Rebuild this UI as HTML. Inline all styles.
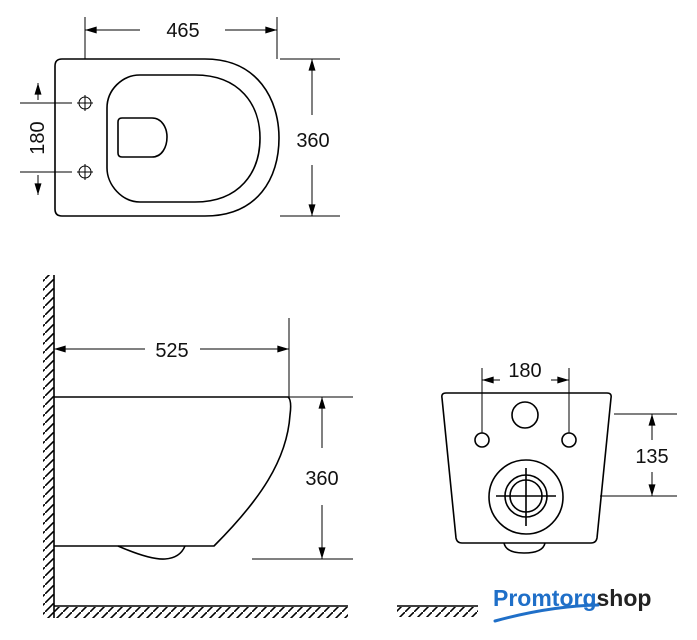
<!DOCTYPE html>
<html><head><meta charset="utf-8"><style>html,body{margin:0;padding:0;background:#fff}svg{display:block}</style></head><body>
<svg width="697" height="640" viewBox="0 0 697 640" xmlns="http://www.w3.org/2000/svg" font-family="'Liberation Sans', sans-serif">
<defs>
<marker id="a" viewBox="0 0 10 6" refX="10" refY="3" markerWidth="16" markerHeight="7" markerUnits="userSpaceOnUse" orient="auto-start-reverse"><path d="M0,0L10,3L0,6z" fill="#000"/></marker>
<pattern id="h" width="9" height="9" patternUnits="userSpaceOnUse"><path d="M0,9L9,0" stroke="#000" stroke-width="1.6"/></pattern>
</defs>
<g fill="none" stroke="#000" stroke-width="1.6">
<path d="M62,59H205C258,59 279,100 279,138C279,178 258,216 205,216H62Q55,216 55,209V66Q55,59 62,59Z"/>
<path d="M140,75H195C240,75 260,105 260,138C260,172 240,202 195,202H140C122,202 107,185 107,168V108C107,90 122,75 140,75Z"/>
<path d="M122,118H152C162,118 167,128 167,137C167,147 162,157 152,157H122Q118,157 118,153V122Q118,118 122,118Z"/>
</g>
<g fill="none" stroke="#000" stroke-width="1">
<circle cx="85" cy="103" r="6"/><path d="M77,103H93M85,95V111"/>
<circle cx="85" cy="172" r="6"/><path d="M77,172H93M85,164V180"/>
<path d="M85,17V59M277,17V59M20,103H72M20,172H72M280,59H340M280,216H340"/>
<path d="M85,30H140M225,30H277" marker-start="url(#a)" marker-end="url(#a)"/>
<path d="M38,100V83" marker-end="url(#a)"/><path d="M38,175V195" marker-end="url(#a)"/>
<path d="M312,59V115M312,165V216" marker-start="url(#a)" marker-end="url(#a)"/>
</g>
<g font-size="20" text-anchor="middle" fill="#111">
<text x="183" y="37">465</text>
<text x="313" y="147">360</text>
<text transform="translate(44,138) rotate(-90)">180</text>
</g>
<rect x="43" y="275" width="11" height="343" fill="url(#h)"/>
<rect x="54" y="607" width="294" height="11" fill="url(#h)"/>
<g fill="none" stroke="#000" stroke-width="1.6">
<path d="M54,275V618M54,606H348"/>
<path d="M54,397H288Q292,400 290,415C287,460 260,500 214,546H54"/>
<path d="M118,546Q150,560 165,559Q180,558 185,546"/>
</g>
<g fill="none" stroke="#000" stroke-width="1">
<path d="M289,318V397M289,397H353M252,559H353"/>
<path d="M54,349H145M200,349H289" marker-start="url(#a)" marker-end="url(#a)"/>
<path d="M322,397V448M322,505V559" marker-start="url(#a)" marker-end="url(#a)"/>
</g>
<g font-size="20" text-anchor="middle" fill="#111">
<text x="172" y="357">525</text>
<text x="322" y="485">360</text>
</g>
<g fill="none" stroke="#000" stroke-width="1.6">
<path d="M446,393H607Q612,393 611,398L597,538Q596,543 591,543H462Q457,543 456,538L442,398Q441,393 446,393Z"/>
<path d="M504,543Q506,553 524,553Q543,553 545,543"/>
<circle cx="525" cy="415" r="13"/>
<circle cx="482" cy="440" r="7"/><circle cx="569" cy="440" r="7"/>
<circle cx="526" cy="497" r="37"/><circle cx="526" cy="496" r="21"/><circle cx="526" cy="496" r="16"/>
<path d="M496,496H556M526,468V526"/>
</g>
<g fill="none" stroke="#000" stroke-width="1">
<path d="M482,368V433M569,368V433M614,414H677M600,496H677"/>
<path d="M482,380H500M551,380H569" marker-start="url(#a)" marker-end="url(#a)"/>
<path d="M652,414V440M652,472V496" marker-start="url(#a)" marker-end="url(#a)"/>
</g>
<g font-size="20" text-anchor="middle" fill="#111">
<text x="525" y="377">180</text>
<text x="652" y="463">135</text>
</g>
<rect x="397" y="607" width="81" height="10" fill="url(#h)"/>
<path d="M397,606H478" stroke="#000" stroke-width="1.6"/>
<text x="493" y="606" font-size="23" font-weight="bold"><tspan fill="#1f6fc8">Promtorg</tspan><tspan fill="#222">shop</tspan></text>
<path d="M495,621Q550,606 598,605" fill="none" stroke="#1f6fc8" stroke-width="3" stroke-linecap="round"/>
</svg>
</body></html>
